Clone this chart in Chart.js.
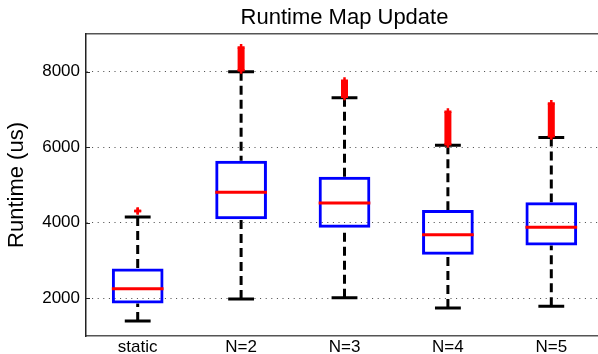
<!DOCTYPE html>
<html>
<head>
<meta charset="utf-8">
<script src="https://cdn.jsdelivr.net/npm/chart.js@4/dist/chart.umd.min.js"></script>
<style>
  html, body { margin: 0; padding: 0; background: #fff; overflow: hidden; }
  #wrap { width: 603px; height: 354px; }
</style>
</head>
<body>
<div id="wrap"><canvas id="c" width="603" height="354"></canvas></div>
<script>
// Runtime statistics per configuration (microseconds)
const categories  = ['static', 'N=2', 'N=3', 'N=4', 'N=5'];
const whiskerLow  = [1400, 1980, 2010, 1740, 1790];
const quartile1   = [1860, 4090, 3870, 3150, 3400];
const medians     = [2250, 4810, 4520, 3680, 3880];
const quartile3   = [2790, 5640, 5220, 4340, 4540];
const whiskerHigh = [4150, 8000, 7310, 6050, 6260];
const outlierLow  = [4310, 8040, 7340, 6080, 6290];
const outlierHigh = [4310, 8640, 7760, 6940, 7160];
const yTicks      = [2000, 4000, 6000, 8000];

const FONT = '"Liberation Sans", Arial, Helvetica, sans-serif';
const BLUE = '#0000ff';
const RED = '#ff0000';

// Whiskers, caps, medians and outliers drawn around the floating-bar boxes
const boxParts = {
  id: 'boxParts',
  beforeDatasetsDraw(chart) {
    const { ctx, scales: { x, y } } = chart;
    const step = x.getPixelForValue(1) - x.getPixelForValue(0);
    const hw = step * 0.125;
    ctx.save();
    ctx.strokeStyle = '#000';
    ctx.lineWidth = 3;
    categories.forEach((c, i) => {
      const cx = x.getPixelForValue(i);
      ctx.setLineDash([9, 5]);
      ctx.beginPath();
      ctx.moveTo(cx, y.getPixelForValue(whiskerHigh[i]));
      ctx.lineTo(cx, y.getPixelForValue(quartile3[i]));
      ctx.moveTo(cx, y.getPixelForValue(whiskerLow[i]));
      ctx.lineTo(cx, y.getPixelForValue(quartile1[i]));
      ctx.stroke();
      ctx.setLineDash([]);
      ctx.beginPath();
      [whiskerHigh[i], whiskerLow[i]].forEach(v => {
        const py = y.getPixelForValue(v);
        ctx.moveTo(cx - hw, py);
        ctx.lineTo(cx + hw, py);
      });
      ctx.stroke();
    });
    // small inward ticks on the left axis
    ctx.strokeStyle = '#222';
    ctx.lineWidth = 1;
    yTicks.forEach(v => {
      const py = Math.round(y.getPixelForValue(v)) + 0.5;
      ctx.beginPath();
      ctx.moveTo(chart.chartArea.left, py);
      ctx.lineTo(chart.chartArea.left + 4, py);
      ctx.stroke();
    });
    ctx.restore();
  },
  afterDatasetsDraw(chart) {
    const { ctx, scales: { x, y } } = chart;
    const bars = chart.getDatasetMeta(0).data;
    ctx.save();
    // medians
    ctx.strokeStyle = RED;
    ctx.lineWidth = 3;
    bars.forEach((bar, i) => {
      const py = y.getPixelForValue(medians[i]);
      ctx.beginPath();
      ctx.moveTo(bar.x - bar.width / 2, py);
      ctx.lineTo(bar.x + bar.width / 2, py);
      ctx.stroke();
    });
    // outliers: '+' markers, joined where they are densely packed
    const plus = (px, py) => {
      ctx.lineWidth = 2.5;
      ctx.beginPath();
      ctx.moveTo(px - 3.5, py); ctx.lineTo(px + 3.5, py);
      ctx.moveTo(px, py - 3.5); ctx.lineTo(px, py + 3.5);
      ctx.stroke();
    };
    categories.forEach((c, i) => {
      const cx = x.getPixelForValue(i);
      const lo = y.getPixelForValue(outlierLow[i]);
      const hi = y.getPixelForValue(outlierHigh[i]);
      if (outlierHigh[i] > outlierLow[i]) {
        ctx.lineWidth = 7;
        ctx.beginPath();
        ctx.moveTo(cx, lo);
        ctx.lineTo(cx, hi);
        ctx.stroke();
      }
      plus(cx, lo);
      plus(cx, hi);
    });
    ctx.restore();
  }
};

new Chart(document.getElementById('c'), {
  type: 'bar',
  data: {
    labels: categories,
    datasets: [{
      data: categories.map((c, i) => [quartile1[i], quartile3[i]]),
      backgroundColor: 'rgba(0,0,0,0)',
      borderColor: BLUE,
      borderWidth: 3,
      borderSkipped: false,
      categoryPercentage: 1,
      barPercentage: 0.5,
      xAxisID: 'x',
      yAxisID: 'y'
    }]
  },
  options: {
    responsive: false,
    animation: false,
    events: [],
    layout: { padding: 0 },
    plugins: { legend: { display: false }, tooltip: { enabled: false }, title: { display: false } },
    scales: {
      x: {
        type: 'category',
        position: 'bottom',
        offset: true,
        grid: { display: false, drawTicks: false },
        border: { display: true, color: '#555', width: 1.5 },
        ticks: { font: { family: FONT, size: 17 }, color: '#000', padding: 1, maxRotation: 0 },
        afterFit(s) { s.height = 18; }
      },
      x2: {
        type: 'category',
        position: 'top',
        offset: true,
        grid: { display: false, drawTicks: false },
        border: { display: true, color: '#555', width: 1.5 },
        ticks: { display: false },
        title: {
          display: true,
          text: 'Runtime Map Update',
          font: { family: FONT, size: 22 },
          color: '#000',
          padding: { top: 5, bottom: 0 }
        },
        afterFit(s) { s.height = 34; }
      },
      y: {
        type: 'linear',
        position: 'left',
        min: 1000,
        max: 9000,
        afterBuildTicks(s) { s.ticks = yTicks.map(v => ({ value: v })); },
        grid: { color: '#444', lineWidth: 1, drawTicks: false },
        border: { display: true, color: '#222', width: 1.5, dash: [1, 4.6] },
        ticks: {
          font: { family: FONT, size: 17 },
          color: '#000',
          padding: 6,
          callback: v => String(v)
        },
        title: {
          display: true,
          text: 'Runtime (us)',
          font: { family: FONT, size: 22 },
          color: '#000',
          padding: { top: 4, bottom: 0 }
        },
        afterFit(s) { s.width = 86; }
      }
    }
  },
  plugins: [boxParts]
});
</script>
</body>
</html>
